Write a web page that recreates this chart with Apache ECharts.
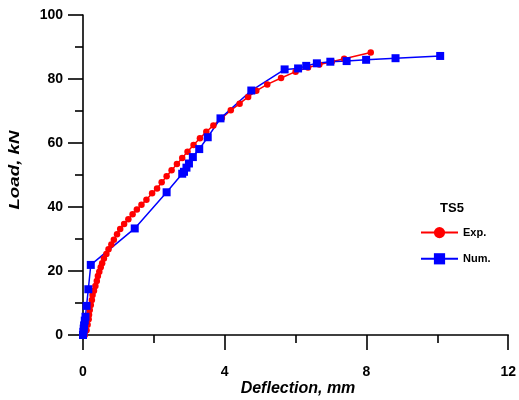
<!DOCTYPE html>
<html>
<head>
<meta charset="utf-8">
<script src="https://cdn.jsdelivr.net/npm/echarts@6/dist/echarts.min.js"></script>
<style>html,body{margin:0;padding:0;background:#fff}#c{width:519px;height:400px}</style>
</head>
<body>
<div id="c"></div>
<script>
// Exp. (red circles): [deflection mm, load kN]
const expDefl = [0.05,0.10,0.13,0.16,0.17,0.19,0.22,0.25,0.27,0.31,0.35,0.39,0.42,0.46,0.50,0.54,0.59,0.66,0.72,0.80,0.87,0.96,1.05,1.16,1.28,1.40,1.52,1.65,1.79,1.95,2.09,2.22,2.36,2.50,2.65,2.80,2.95,3.12,3.30,3.48,3.68,3.92,4.17,4.42,4.66,4.89,5.20,5.59,6.00,6.35,6.67,7.02,7.37,8.12];
const expLoad = [0,1.5,3.2,4.9,6.3,7.8,9.4,10.9,12.5,13.8,15.3,16.9,18.4,19.8,21.2,22.4,23.9,25.3,26.8,28.3,29.8,31.5,33.1,34.7,36.2,37.7,39.2,40.7,42.3,44.3,45.8,47.7,49.6,51.5,53.4,55.3,57.3,59.4,61.5,63.5,65.5,67.8,70.2,72.3,74.4,76.3,78.3,80.3,82.3,83.6,84.5,85.4,86.3,88.3];
// Num. (blue squares)
const numDefl = [0,0.01,0.02,0.03,0.05,0.07,0.10,0.15,0.22,1.46,2.36,2.80,2.85,2.92,2.99,3.10,3.28,3.52,3.88,4.75,5.69,6.07,6.30,6.60,6.98,7.44,7.99,8.82,10.08];
const numLoad = [0,1.0,2.0,3.0,4.5,5.7,9.1,14.3,21.9,33.3,44.6,50.4,51.0,52.3,53.6,55.6,58.1,61.8,67.7,76.4,83.0,83.3,84.1,84.9,85.4,85.6,86.0,86.5,87.2];
const xTicks = [0,4,8,12];
const yTicks = [0,20,40,60,80,100];
const legendTitle = 'TS5';
const seriesNames = ['Exp.','Num.'];

const zip = (a,b) => a.map((v,i)=>[v,b[i]]);
const chart = echarts.init(document.getElementById('c'), null, {renderer:'canvas'});
const axisCommon = {
  axisLine:{show:true, onZero:false, lineStyle:{color:'#000', width:1.6}},
  axisTick:{show:true, inside:false, length:15, lineStyle:{color:'#000', width:1.6}},
  minorTick:{show:true, splitNumber:2, length:8, lineStyle:{color:'#000', width:1.6}},
  splitLine:{show:false},
  axisLabel:{color:'#000', fontFamily:'Liberation Sans', fontWeight:'bold', fontSize:14}
};
chart.setOption({
  animation:false,
  backgroundColor:'#fff',
  grid:{left:83, right:10, top:15, bottom:65, containLabel:false},
  xAxis:Object.assign({}, axisCommon, {type:'value', min:xTicks[0], max:xTicks[xTicks.length-1], interval:4,
    axisLabel:Object.assign({}, axisCommon.axisLabel, {margin:30})}),
  yAxis:Object.assign({}, axisCommon, {type:'value', min:yTicks[0], max:yTicks[yTicks.length-1], interval:20,
    axisLabel:Object.assign({}, axisCommon.axisLabel, {margin:20})}),
  legend:{orient:'vertical', left:415, top:222, itemWidth:37, itemHeight:14, itemGap:15,
    textStyle:{color:'#000', fontFamily:'Liberation Sans', fontWeight:'bold', fontSize:11},
    data:seriesNames},
  graphic:[
    {type:'text', style:{text:legendTitle, x:452, y:208, align:'center', verticalAlign:'middle',
      font:'bold 13px "Liberation Sans"', fill:'#000'}},
    {type:'text', style:{text:'Deflection, mm', x:298, y:389, align:'center', verticalAlign:'middle',
      font:'italic bold 16px "Liberation Sans"', fill:'#000'}},
    {type:'text', x:15, y:170, rotation:Math.PI/2, scaleX:1.25,
      style:{text:'Load, kN', x:0, y:0, align:'center', verticalAlign:'middle',
      font:'italic bold 15px "Liberation Sans"', fill:'#000'}}
  ],
  series:[
    {name:seriesNames[0], type:'line', data:zip(expDefl,expLoad), symbol:'circle', symbolSize:6.5,
     color:'#ff0000', lineStyle:{color:'#ff0000', width:1.5}, itemStyle:{color:'#ff0000'}},
    {name:seriesNames[1], type:'line', data:zip(numDefl,numLoad), symbol:'rect', symbolSize:8,
     color:'#0000ff', lineStyle:{color:'#0000ff', width:1.5}, itemStyle:{color:'#0000ff'}}
  ]
});
</script>
</body>
</html>
